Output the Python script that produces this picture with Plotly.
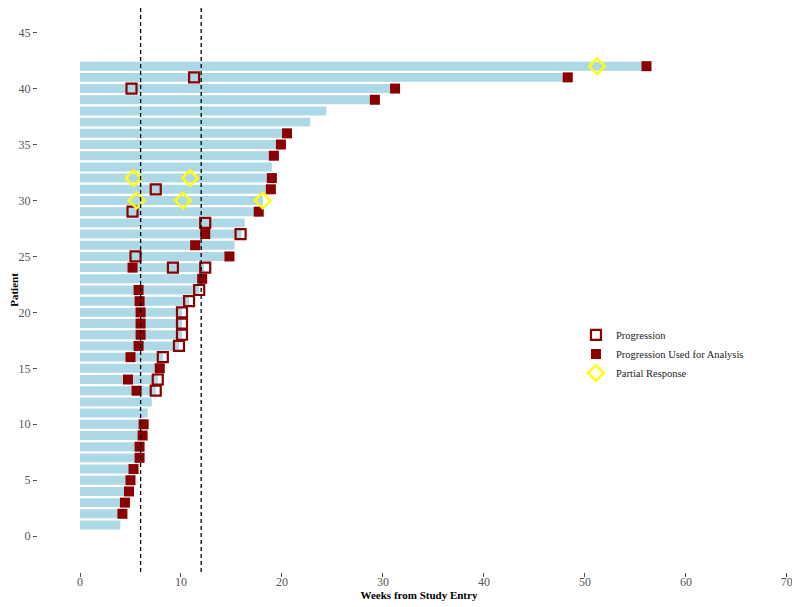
import plotly.graph_objects as go

# swimmer plot data: one bar per patient, weeks on study
patients = list(range(1, 43))
weeks = [4.0, 4.2, 4.45, 4.9, 5.0, 5.3, 5.9, 5.9, 6.2, 6.3,
         6.7, 7.1, 7.5, 7.7, 7.9, 8.2, 9.8, 10.1, 10.1, 10.1,
         10.8, 11.8, 12.1, 12.3, 14.6, 15.3, 16.0, 16.3, 17.7, 18.1,
         18.9, 19.0, 19.0, 19.2, 19.9, 20.5, 22.8, 24.4, 29.2, 31.0,
         48.5, 55.9]

# Progression (open squares)
prog_patient = [13, 14, 16, 17, 18, 19, 20, 21, 22, 24, 24, 25, 27, 28, 29, 31, 40, 41]
prog_week = [7.5, 7.7, 8.2, 9.8, 10.1, 10.1, 10.1, 10.8, 11.8, 9.2, 12.4, 5.5, 15.9,
             12.4, 5.2, 7.5, 5.1, 11.3]

# Progression used for analysis (filled squares)
used_patient = [2, 3, 4, 5, 6, 7, 8, 9, 10, 13, 14, 15, 16, 17, 18, 19, 20, 21, 22,
                23, 24, 25, 26, 27, 29, 31, 32, 34, 35, 36, 39, 40, 41, 42]
used_week = [4.2, 4.45, 4.85, 5.0, 5.3, 5.9, 5.9, 6.2, 6.3, 5.6, 4.75, 7.9, 5.0, 5.8,
             6.0, 6.0, 6.0, 5.9, 5.8, 12.1, 5.2, 14.8, 11.4, 12.4, 17.7, 18.9, 19.0,
             19.2, 19.9, 20.5, 29.2, 31.2, 48.3, 56.1]

# Partial response (open diamonds)
pr_patient = [30, 30, 30, 32, 32, 42]
pr_week = [5.6, 10.2, 18.1, 5.3, 10.9, 51.2]

ref_weeks = [6, 12]

FONT = "Liberation Serif"

fig = go.Figure()
fig.add_trace(go.Bar(x=weeks, y=patients, orientation='h', width=0.8,
                     marker=dict(color='#ADD8E6', line=dict(width=0)),
                     showlegend=False, hoverinfo='skip'))
fig.add_trace(go.Scatter(x=prog_week, y=prog_patient, mode='markers', name='Progression',
                         marker=dict(symbol='square-open', size=10, color='#8B0000',
                                     line=dict(width=2.2, color='#8B0000'))))
fig.add_trace(go.Scatter(x=used_week, y=used_patient, mode='markers',
                         name='Progression Used for Analysis',
                         marker=dict(symbol='square', size=10, color='#8B0000')))
fig.add_trace(go.Scatter(x=pr_week, y=pr_patient, mode='markers', name='Partial Response',
                         marker=dict(symbol='diamond-open', size=12, color='#FFFF00',
                                     line=dict(width=2.4, color='#F2F200'))))

for w in ref_weeks:
    fig.add_shape(type='line', x0=w, x1=w, y0=0, y1=1, yref='paper',
                  line=dict(color='black', width=1.3, dash='4px,3px'))

# page body has an 8px margin, so margins are shifted to compensate
fig.update_layout(
    width=800, height=607,
    margin=dict(l=30, r=8, t=0, b=43),
    plot_bgcolor='white', paper_bgcolor='white',
    font=dict(family=FONT, size=12, color='#4D4D4D'),
    bargap=0.2,
    legend=dict(x=0.706, y=0.446, xanchor='left', yanchor='top',
                font=dict(family=FONT, size=10.5, color='#222222'),
                bgcolor='rgba(0,0,0,0)', tracegroupgap=0),
)
fig.update_xaxes(range=[-4.16, 71.3], tickvals=[0, 10, 20, 30, 40, 50, 60, 70],
                 showgrid=False, zeroline=False, showline=False, automargin=False,
                 ticks='outside', ticklen=4, tickcolor='#4D4D4D', ticklabelstandoff=-5,
                 tickfont=dict(color='#555555'),
                 title=dict(text='<b>Weeks from Study Entry</b>', standoff=0,
                            font=dict(family=FONT, size=11, color='black')))
fig.update_yaxes(range=[-3.2, 47.2], tickvals=[0, 5, 10, 15, 20, 25, 30, 35, 40, 45],
                 showgrid=False, zeroline=False, showline=False, automargin=False,
                 ticks='outside', ticklen=4, tickcolor='#4D4D4D',
                 tickfont=dict(color='#555555'),
                 title=dict(text='<b>Patient</b>', standoff=2,
                            font=dict(family=FONT, size=11, color='black')))

fig.write_html("out.html")
